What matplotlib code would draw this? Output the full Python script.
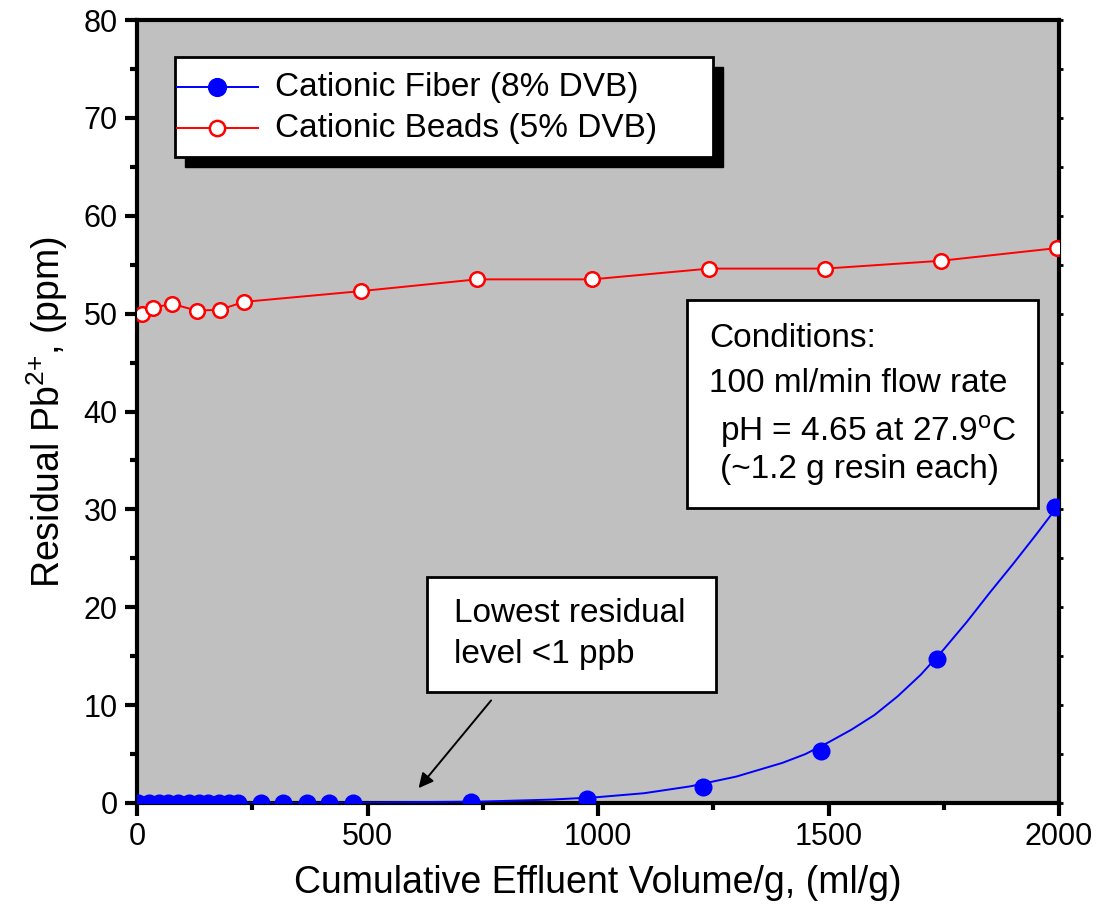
import matplotlib
matplotlib.use("Agg")
import matplotlib.pyplot as plt
from matplotlib.ticker import MultipleLocator

plt.rcParams['font.family'] = ['Liberation Sans', 'DejaVu Sans']
plt.rcParams['mathtext.fontset'] = 'custom'
plt.rcParams['mathtext.rm'] = 'Liberation Sans'
plt.rcParams['mathtext.it'] = 'Liberation Sans:italic'

# Cationic Fiber (8% DVB) measured points
fiber_x = [3, 25, 47, 68, 90, 112, 134, 155, 177, 199, 220, 269, 317, 369, 417, 469, 724, 976, 1227, 1483, 1735, 1991]
fiber_y = [0.05, 0.05, 0.05, 0.05, 0.05, 0.05, 0.05, 0.05, 0.05, 0.05, 0.05, 0.05, 0.05, 0.05, 0.05, 0.05, 0.1, 0.4, 1.6, 5.3, 14.7, 30.2]
# Fiber fitted curve
fit_x = [0, 250, 500, 750, 900, 1000, 1100, 1200, 1300, 1400, 1450, 1500, 1550, 1600, 1650, 1700, 1750, 1800, 1850, 1900, 1950, 2000]
fit_y = [0.0, 0.0, 0.05, 0.15, 0.35, 0.6, 1.0, 1.7, 2.7, 4.1, 5.0, 6.2, 7.5, 9.0, 10.9, 13.1, 15.7, 18.5, 21.5, 24.4, 27.4, 30.5]

# Cationic Beads (5% DVB)
beads_x = [11, 35, 76, 130, 180, 232, 486, 737, 987, 1241, 1492, 1744, 1996]
beads_y = [49.95, 50.6, 51.0, 50.3, 50.4, 51.2, 52.3, 53.5, 53.5, 54.6, 54.6, 55.4, 56.7]

x_ticks = [0, 500, 1000, 1500, 2000]
y_ticks = [0, 10, 20, 30, 40, 50, 60, 70, 80]

fig = plt.figure(figsize=(11.01, 9.11), dpi=100)
ax = fig.add_axes([137/1101, 1-803/911, (1059-137)/1101, (803-20)/911])
ax.set_facecolor('#C0C0C0')

ax.plot(fit_x, fit_y, color='blue', lw=1.4, zorder=3)
ax.plot(fiber_x, fiber_y, 'o', color='blue', ms=12, zorder=4)
ax.plot(beads_x, beads_y, '-o', color='red', lw=1.4, ms=10.5, mfc='white', mec='red', mew=1.8, zorder=4)

ax.set_xlim(0, 2000)
ax.set_ylim(0, 80)
ax.set_xticks(x_ticks)
ax.set_yticks(y_ticks)
ax.xaxis.set_minor_locator(MultipleLocator(250))
ax.yaxis.set_minor_locator(MultipleLocator(5))
for s in ax.spines.values():
    s.set_linewidth(3)
ax.tick_params(which='major', direction='out', length=9, width=3, labelsize=22, pad=5)
ax.tick_params(which='minor', direction='out', length=5, width=3)

# small ticks on right side
axr = ax.twinx()
axr.set_ylim(0, 80)
axr.yaxis.set_major_locator(MultipleLocator(5))
axr.tick_params(axis='y', direction='out', length=3, width=2, labelright=False)
for s in axr.spines.values():
    s.set_visible(False)

ax.set_xlabel('Cumulative Effluent Volume/g, (ml/g)', fontsize=27, labelpad=9)
ax.set_ylabel('Residual Pb$^{2{+}}$, (ppm)', fontsize=27, labelpad=10)

def px2ax(x, y):
    return ((x-137)/(1059-137), (803-y)/(803-20))

# legend with shadow
x0, y0 = px2ax(175, 157)
x1, y1 = px2ax(713, 57)
sx, sy = 10/922, -10/783
ax.add_patch(plt.Rectangle((x0+sx, y0+sy), x1-x0, y1-y0, transform=ax.transAxes,
                           facecolor='black', edgecolor='black', zorder=5))
ax.add_patch(plt.Rectangle((x0, y0), x1-x0, y1-y0, transform=ax.transAxes,
                           facecolor='white', edgecolor='black', lw=2, zorder=6))
for (ly, col, mfc, lab) in [(87, 'blue', 'blue', 'Cationic Fiber (8% DVB)'),
                            (128, 'red', 'white', 'Cationic Beads (5% DVB)')]:
    ax_, ay_ = px2ax(177, ly)
    bx_, _ = px2ax(258, ly)
    mx_, _ = px2ax(217, ly)
    ax.plot([ax_, bx_], [ay_, ay_], color=col, lw=1.4, transform=ax.transAxes, zorder=7)
    ax.plot([mx_], [ay_], 'o', color=col, mfc=mfc, mec=col, mew=1.8, ms=12 if mfc == 'blue' else 11,
            transform=ax.transAxes, zorder=8)
    tx_, _ = px2ax(275, ly)
    ax.text(tx_, ay_, lab, transform=ax.transAxes, fontsize=24, va='center', ha='left', zorder=8)

# Conditions box
cx0, cy0 = px2ax(687, 508)
cx1, cy1 = px2ax(1038, 300)
ax.add_patch(plt.Rectangle((cx0, cy0), cx1-cx0, cy1-cy0, transform=ax.transAxes,
                           facecolor='white', edgecolor='black', lw=2, zorder=6))
cond_lines = [('Conditions:', 338, 709), ('100 ml/min flow rate', 383, 709),
              ('pH = 4.65 at 27.9$^{\\mathrm{o}}$C', 431, 720), ('(~1.2 g resin each)', 469, 720)]
for t, yy, xx in cond_lines:
    tx, ty = px2ax(xx, yy)
    ax.text(tx, ty, t, transform=ax.transAxes, fontsize=24, va='center', ha='left', zorder=7)

# Lowest residual box
lx0, ly0 = px2ax(427, 692)
lx1, ly1 = px2ax(716, 577)
ax.add_patch(plt.Rectangle((lx0, ly0), lx1-lx0, ly1-ly0, transform=ax.transAxes,
                           facecolor='white', edgecolor='black', lw=2, zorder=6))
for t, yy in [('Lowest residual', 613), ('level <1 ppb', 655)]:
    tx, ty = px2ax(454, yy)
    ax.text(tx, ty, t, transform=ax.transAxes, fontsize=24, va='center', ha='left', zorder=7)
ax.annotate('', xy=(607, 1.3), xytext=(772, 10.7),
            arrowprops=dict(arrowstyle='-|>', color='black', lw=1.4, mutation_scale=22), zorder=7)

fig.savefig('out.png', dpi=100)
